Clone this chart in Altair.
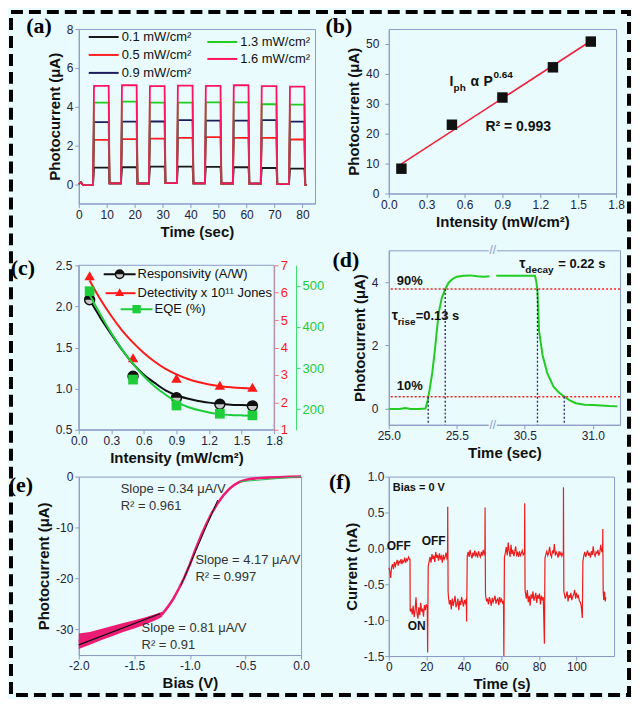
import altair as alt
import numpy as np
import pandas as pd

# ---------------- data ----------------
# (a) on/off photocurrent for five intensities
a_names = ["0.1 mW/cm²", "0.5 mW/cm²", "0.9 mW/cm²", "1.3 mW/cm²", "1.6 mW/cm²"]
a_colors = ["#1a1a1a", "#ff2020", "#1c1c5c", "#22cc22", "#ff1460"]
a_on = [5.2, 15.2, 25.2, 35.2, 45.2, 55.2, 65.2, 75.3]
a_off = [10.7, 20.7, 30.7, 40.7, 50.7, 60.7, 70.7, 80.7]
a_lvl = [
    [0.85, 0.87, 0.90, 0.90, 0.89, 0.87, 0.83, 0.80],
    [2.28, 2.32, 2.35, 2.38, 2.42, 2.38, 2.38, 2.30],
    [3.20, 3.22, 3.23, 3.30, 3.27, 3.27, 3.30, 3.22],
    [4.20, 4.25, 4.20, 4.20, 4.22, 4.22, 4.12, 4.10],
    [5.07, 5.10, 5.05, 5.08, 5.07, 5.10, 5.05, 5.03],
]
a_dark = [-0.04, 0.04, 0.03, 0.05, 0.04, 0.03, 0.02, 0.00, -0.05]
a_lead_t = [0.0, 0.8, 1.4, 2.5]
a_lead_i = [0.0, 0.09, -0.03, -0.05]

# (b)
b_int = [0.1, 0.5, 0.9, 1.3, 1.6]
b_cur = [8.3, 23.0, 32.1, 42.2, 50.8]
b_fit_int = [0.1, 1.6]
b_fit_cur = [9.9, 51.0]

# (c)
c_int = [0.1, 0.5, 0.9, 1.3, 1.6]
c_resp = [2.08, 1.15, 0.89, 0.81, 0.79]
c_det = [6.62, 3.63, 2.88, 2.62, 2.55]
c_eqe = [487, 272, 209, 189, 185]
c_fit_int = [0.1, 0.2, 0.3, 0.4, 0.5, 0.6, 0.7, 0.8, 0.9, 1.0, 1.1, 1.2, 1.3, 1.4, 1.5, 1.6]
c_resp_fit = [2.08, 1.86, 1.66, 1.47, 1.30, 1.17, 1.07, 0.98, 0.92, 0.88, 0.85, 0.83, 0.815, 0.805, 0.80, 0.795]
c_det_fit = [6.45, 5.75, 5.15, 4.62, 4.18, 3.80, 3.48, 3.22, 3.02, 2.86, 2.74, 2.65, 2.59, 2.55, 2.52, 2.50]
c_eqe_fit = [478, 430, 385, 345, 310, 280, 255, 235, 218, 206, 198, 192, 188, 186, 185, 184]

# (d) rise / decay (time axis broken between 25.76 s and 30.27 s)
d_t1 = [25.00, 25.08, 25.12, 25.16, 25.22, 25.27, 25.285, 25.30, 25.32, 25.34, 25.355, 25.37,
        25.39, 25.415, 25.44, 25.47, 25.50, 25.55, 25.60, 25.65, 25.70, 25.74]
d_i1 = [0.00, 0.00, 0.03, 0.00, 0.00, 0.01, 0.25, 0.60, 1.15, 1.90, 2.55, 3.10,
        3.50, 3.78, 3.98, 4.10, 4.17, 4.20, 4.21, 4.18, 4.17, 4.18]
d_t2 = [30.29, 30.40, 30.50, 30.575, 30.585, 30.593, 30.605, 30.63, 30.665, 30.71, 30.75, 30.79,
        30.83, 30.875, 30.94, 31.00, 31.06, 31.12, 31.18]
d_i2 = [4.20, 4.20, 4.20, 4.20, 4.00, 3.70, 2.45, 1.70, 1.13, 0.71, 0.52, 0.39,
        0.27, 0.18, 0.13, 0.12, 0.11, 0.09, 0.08]
d_break_shift = 4.5
d_break_at = 25.765
d_pct = [3.78, 0.38]
d_cross_t = [25.29, 25.415, 30.593, 30.79]
d_cross_i = [0.38, 3.78, 3.78, 0.38]

# (e) photocurrent vs bias
e_bias = [-2.0, -1.9, -1.8, -1.7, -1.6, -1.5, -1.4, -1.3, -1.25, -1.2, -1.15, -1.1, -1.05, -1.0,
          -0.95, -0.9, -0.85, -0.8, -0.75, -0.7, -0.65, -0.6, -0.55, -0.5, -0.45, -0.4, -0.3,
          -0.2, -0.1, 0.0]
e_cur = [-32.3, -31.7, -31.0, -30.3, -29.6, -29.0, -28.3, -27.5, -27.0, -25.6, -24.0, -22.0,
         -19.8, -17.2, -14.3, -11.6, -9.2, -7.0, -5.2, -3.7, -2.5, -1.6, -1.0, -0.65, -0.45,
         -0.33, -0.2, -0.12, -0.06, 0.0]
e_band_bias = [-2.0, -1.9, -1.8, -1.7, -1.6, -1.5, -1.4, -1.3, -1.25]
e_band_hi = [-30.8, -30.5, -29.9, -29.3, -28.7, -28.2, -27.6, -26.9, -26.5]
e_band_lo = [-33.8, -33.0, -32.1, -31.3, -30.5, -29.8, -29.0, -28.1, -27.5]
e_fit1_bias = [-2.0, -1.27]
e_fit1_cur = [-33.0, -26.9]
e_fit2_bias = [-1.08, -0.75]
e_fit2_cur = [-21.3, -4.6]
e_fit3_bias = [-0.55, 0.0]
e_fit3_cur = [-1.0, 0.0]

# (f) zero-bias switching, noisy trace (segments sampled every 0.5 s + switching spikes)
f_seg_start = [0.0, 11.5, 21.0, 31.8, 41.8, 51.6, 61.6, 72.8, 83.2, 93.5, 103.4]
f_seg_vals = [
    [-0.27, -0.31, -0.41, -0.26, -0.22, -0.29, -0.19, -0.25, -0.21, -0.16, -0.24, -0.18,
     -0.20, -0.15, -0.22, -0.17, -0.19, -0.13, -0.20, -0.15, -0.17, -0.12, -0.15],
    [-0.88, -0.84, -0.92, -0.80, -0.96, -0.87, -0.68, -0.90, -0.98, -0.82, -0.93, -0.76,
     -0.88, -0.84, -0.95, -0.79, -0.86, -0.78, -0.82],
    [-0.25, -0.18, -0.12, -0.20, -0.08, -0.15, -0.10, -0.19, -0.05, -0.13, -0.09, -0.17,
     -0.07, -0.14, -0.11, -0.20, -0.09, -0.15, -0.12, -0.06, -0.14],
    [-0.68, -0.78, -0.72, -0.85, -0.70, -0.80, -0.74, -0.66, -0.82, -0.77, -0.70, -0.86,
     -0.73, -0.79, -0.68, -0.75, -0.81, -0.72, -0.76, -0.70],
    [-0.10, -0.05, -0.12, -0.02, -0.09, -0.14, -0.06, -0.11, -0.03, -0.10, -0.07, -0.13,
     -0.04, -0.09, -0.12, -0.05, -0.10, -0.02, -0.08],
    [-0.66, -0.74, -0.70, -0.78, -0.68, -0.73, -0.80, -0.69, -0.75, -0.71, -0.66, -0.77,
     -0.72, -0.70, -0.79, -0.68, -0.74, -0.71, -0.76, -0.73],
    [-0.12, -0.06, 0.02, -0.10, 0.08, -0.04, -0.12, 0.05, -0.08, -0.02, -0.11, -0.05,
     0.03, -0.09, -0.06, -0.12, -0.04, -0.10, -0.07, -0.03, -0.09],
    [-0.62, -0.70, -0.58, -0.75, -0.66, -0.80, -0.64, -0.70, -0.60, -0.73, -0.68, -0.62,
     -0.76, -0.65, -0.70, -0.63, -0.78, -0.66, -0.71, -0.68],
    [-0.14, -0.08, -0.04, -0.10, -0.06, 0.02, -0.09, -0.12, -0.03, -0.07, 0.06, -0.10,
     -0.05, -0.08, -0.13, -0.04, -0.09, -0.06, -0.11],
    [-0.63, -0.70, -0.66, -0.60, -0.74, -0.65, -0.69, -0.62, -0.72, -0.67, -0.64, -0.58,
     -0.70, -0.62, -0.68, -0.66, -0.73, -0.75, -0.80],
    [-0.18, -0.10, -0.05, -0.12, -0.07, -0.03, -0.10, -0.06, -0.13, -0.04, -0.09, 0.03,
     -0.08, -0.11, -0.05, -0.07, -0.02, -0.10, -0.06, 0.05, -0.04],
]
f_spike_t = [11.3, 11.4, 20.7, 31.3, 31.4, 31.6, 41.45, 51.2, 51.3, 51.5, 61.3, 72.3, 72.4,
             72.6, 82.9, 93.0, 93.05, 93.25, 103.1, 113.9, 114.0, 114.2, 114.5, 114.9, 115.3, 115.6]
f_spike_i = [-0.15, -0.86, -1.45, -0.12, 0.58, -0.60, -1.02, -0.05, 0.57, -0.62, -1.50, -0.06,
             0.63, -0.58, -1.33, -0.05, 0.85, -0.60, -0.97, -0.05, 0.27, -0.60, -0.72, -0.60,
             -0.74, -0.68]

# ---------------- styling ----------------
FONT = "Liberation Sans"
SERIF = "Liberation Serif"
FRAME = "#8d9bc7"
BG = "#e9fbfd"
LBL = "#22223a"
TTL = "#111111"
ONE = pd.DataFrame({"k": [0]})


def ax(values, title=None, fmt=None, expr=None, **kw):
    p = dict(values=values, grid=False, domainColor=FRAME, tickColor=FRAME, tickSize=4,
             labelFont=FONT, labelFontSize=12, labelColor=LBL, labelPadding=2,
             labelFlush=False, labelOverlap=False,
             titleFont=FONT, titleFontSize=15, titleFontWeight="bold", titleColor=TTL,
             titlePadding=4, title=title)
    if fmt is not None:
        p["format"] = fmt
    if expr is not None:
        p["labelExpr"] = expr
    p.update(kw)
    return alt.Axis(**p)


def label(s, x, y, size=13, weight="bold", color=TTL, align="left", font=FONT):
    return alt.Chart(ONE).mark_text(text=s, font=font, fontSize=size, fontWeight=weight,
                                    color=color, align=align, baseline="middle").encode(
        x=alt.value(x), y=alt.value(y))


def panel_tag(s, x, y):
    return label(s, x, y, size=22, weight="bold", color="#000", align="center", font=SERIF)


def leg_line(x1, x2, y, color, w=2):
    return alt.Chart(ONE).mark_rule(color=color, strokeWidth=w).encode(
        x=alt.value(x1), x2=alt.value(x2), y=alt.value(y))


def leg_sym(x, y, **kw):
    return alt.Chart(ONE).mark_point(opacity=1, **kw).encode(x=alt.value(x), y=alt.value(y))


MINUS = "replace(format(datum.value, '.1f'), '\u2212', '-')"
MINUS0 = "replace(format(datum.value, 'd'), '\u2212', '-')"

# ---------------- panel (a) ----------------
rows = []
for name, lv in zip(a_names, a_lvl):
    for t, i in zip(a_lead_t, a_lead_i):
        rows.append((name, t, i))
    for k in range(len(a_on)):
        rows.append((name, a_on[k] - 0.1, a_dark[k]))
        rows.append((name, a_on[k] + 0.25, lv[k]))
        rows.append((name, a_off[k], lv[k]))
        rows.append((name, a_off[k] + 0.3, a_dark[k + 1]))
    rows.append((name, 81.5, a_dark[-1]))
df_a = pd.DataFrame(rows, columns=["s", "t", "i"])

a_scale = alt.Scale(domain=a_names, range=a_colors)
a_x = alt.X("t:Q", scale=alt.Scale(domain=[0, 84.5], nice=False),
            axis=ax(list(range(0, 81, 10)), "Time (sec)", "d"))
a_y = alt.Y("i:Q", scale=alt.Scale(domain=[-1, 8], nice=False),
            axis=ax([0, 2, 4, 6, 8], "Photocurrent (\u03bcA)", "d"))
a_layers = []
for name in a_names:
    a_layers.append(alt.Chart(df_a[df_a.s == name]).mark_line(strokeWidth=1.8).encode(
        x=a_x, y=a_y, color=alt.Color("s:N", scale=a_scale, legend=None)))
# legend entries: two columns (0.1/0.5/0.9 | 1.3/1.6)
a_leg_pos = [(10, 8), (10, 26), (10, 44), (129, 13), (129, 30)]
a_leg = []
for (lx, ly), name, col in zip(a_leg_pos, a_names, a_colors):
    a_leg.append(leg_line(lx, lx + 30, ly, col))
    a_leg.append(label(name, lx + 33, ly, size=13, weight="normal"))
border = alt.Chart(ONE).mark_rect(fillOpacity=0, stroke="#000000", strokeWidth=4,
                                  strokeDash=[12, 6]).encode(
    x=alt.value(-68), x2=alt.value(552), y=alt.value(-17), y2=alt.value(668))
pa = alt.layer(*a_layers, *a_leg, border, panel_tag("(a)", -40, -3)).properties(width=237, height=175)

# ---------------- panel (b) ----------------
df_b = pd.DataFrame({"x": b_int, "y": b_cur})
df_bf = pd.DataFrame({"x": b_fit_int, "y": b_fit_cur})
b_x = alt.X("x:Q", scale=alt.Scale(domain=[0, 1.8], nice=False),
            axis=ax([0, 0.3, 0.6, 0.9, 1.2, 1.5, 1.8], "Intensity (mW/cm²)", ".1f"))
b_y = alt.Y("y:Q", scale=alt.Scale(domain=[0, 55], nice=False),
            axis=ax([0, 10, 20, 30, 40, 50], "Photocurrent (\u03bcA)", "d", labelPadding=6))
pb = alt.layer(
    alt.Chart(df_bf).mark_line(color="#f0203c", strokeWidth=1.5).encode(x=b_x, y=b_y),
    alt.Chart(df_b).mark_square(size=110, color="#111111", opacity=1).encode(x=b_x, y=b_y),
    label("I", 61, 53, size=14),
    label("ph", 65, 59, size=10),
    label("\u03b1", 82, 53, size=14),
    label("P", 95, 53, size=14),
    label("0.64", 105, 46, size=10),
    label("R² = 0.993", 97, 98, size=14),
    panel_tag("(b)", -50, -3),
).properties(width=228, height=165)

# ---------------- panel (c) ----------------
df_c = pd.DataFrame({"x": c_int, "r": c_resp, "d": c_det, "e": c_eqe})
df_cf = pd.DataFrame({"x": c_fit_int, "r": c_resp_fit, "d": c_det_fit, "e": c_eqe_fit})
c_rng = [180, 15]
c_x = alt.X("x:Q", scale=alt.Scale(domain=[0, 1.8], nice=False),
            axis=ax([0, 0.3, 0.6, 0.9, 1.2, 1.5, 1.8], "Intensity (mW/cm²)", ".1f"))
c_yr = alt.Y("r:Q", scale=alt.Scale(domain=[0.5, 2.5], nice=False, range=c_rng),
             axis=ax([0.5, 1.0, 1.5, 2.0, 2.5], None, ".1f", labelPadding=3))
RED = "#ff1a1a"
GRN = "#1fcc3a"
c_yd = alt.Y("d:Q", scale=alt.Scale(domain=[1, 7], nice=False, range=c_rng),
             axis=ax([1, 2, 3, 4, 5, 6, 7], None, "d", orient="right", domainColor="#ff6b7a",
                     tickColor="#ff6b7a", labelColor=RED, labelFontSize=13))
c_ye = alt.Y("e:Q", scale=alt.Scale(domain=[150, 550], nice=False, range=c_rng),
             axis=ax([200, 300, 400, 500], None, "d", orient="right", offset=22,
                     domainColor="#33dd66", tickColor="#33dd66", labelColor=GRN, labelFontSize=13))
half_top = "M-1,0A1,1,0,0,1,1,0Z"
c_black = alt.layer(
    alt.Chart(df_cf).mark_line(color="#111111", strokeWidth=2, interpolate="monotone").encode(x=c_x, y=c_yr),
    alt.Chart(df_c).mark_point(shape="circle", size=100, filled=True, fill="#c8c8c8", stroke="#111111",
                               strokeWidth=1.5, opacity=1).encode(x=c_x, y=c_yr),
    alt.Chart(df_c).mark_point(shape=half_top, size=100, filled=True, color="#111111",
                               opacity=1).encode(x=c_x, y=c_yr),
)
c_red = alt.layer(
    alt.Chart(df_cf).mark_line(color=RED, strokeWidth=2, interpolate="monotone").encode(x=c_x, y=c_yd),
    alt.Chart(df_c).mark_point(shape="triangle-up", size=110, filled=True, color=RED,
                               opacity=1).encode(x=c_x, y=c_yd),
)
c_green = alt.layer(
    alt.Chart(df_cf).mark_line(color=GRN, strokeWidth=2, interpolate="monotone").encode(x=c_x, y=c_ye),
    alt.Chart(df_c).mark_point(shape="square", size=95, filled=True, color=GRN,
                               opacity=1).encode(x=c_x, y=c_ye),
)
c_frame = alt.Chart(ONE).mark_rect(fillOpacity=0, stroke=FRAME, strokeWidth=1).encode(
    x=alt.value(0), x2=alt.value(196), y=alt.value(15), y2=alt.value(180))

pc = alt.layer(
    c_black, c_red, c_green, c_frame,
    leg_line(25, 57, 24, "#111111"),
    leg_sym(41, 24, shape="circle", size=70, filled=True, fill="#c8c8c8", stroke="#111111", strokeWidth=1.5),
    leg_sym(41, 24, shape=half_top, size=70, filled=True, color="#111111"),
    label("Responsivity (A/W)", 59, 24, size=13, weight="normal"),
    leg_line(27, 57, 43, RED),
    leg_sym(41, 42, shape="triangle-up", size=80, filled=True, color=RED),
    label("Detectivity x 10\u00b9\u00b9 Jones", 59, 43, size=13, weight="normal"),
    leg_line(42, 74, 59, GRN),
    leg_sym(58, 59, shape="square", size=70, filled=True, color=GRN),
    label("EQE (%)", 76, 59, size=13, weight="normal"),
    panel_tag("(c)", -56, 18),
).resolve_scale(y="independent").properties(width=196, height=180,
                                             view=alt.ViewBackground(strokeOpacity=0))

# ---------------- panel (d) ----------------
df_d = pd.DataFrame({
    "u": d_t1 + [t - d_break_shift for t in d_t2],
    "i": d_i1 + d_i2,
    "seg": [1] * len(d_t1) + [2] * len(d_t2),
})
df_dc = pd.DataFrame({
    "u": [t if t < d_break_at else t - d_break_shift for t in d_cross_t],
    "i": d_cross_i,
})
d_expr = ("datum.value < %s ? format(datum.value, '.1f') : format(datum.value + %s, '.1f')"
          % (d_break_at, d_break_shift))
d_x = alt.X("u:Q", scale=alt.Scale(domain=[25.0, 26.7], nice=False, zero=False),
            axis=ax([25.0, 25.5, 26.0, 26.5], "Time (sec)", expr=d_expr))
d_y = alt.Y("i:Q", scale=alt.Scale(domain=[-0.5, 5], nice=False),
            axis=ax([0, 2, 4], "Photocurrent (\u03bcA)", "d", labelPadding=7))
pd_ = alt.layer(
    alt.Chart(df_d).mark_line(color="#22cc22", strokeWidth=2).encode(x=d_x, y=d_y, detail="seg:N"),
    alt.Chart(pd.DataFrame({"p": d_pct})).mark_rule(color="#ff2020", strokeDash=[2, 2],
                                                    strokeWidth=1.5).encode(
        y=alt.Y("p:Q", scale=alt.Scale(domain=[-0.5, 5], nice=False))),
    alt.Chart(df_dc).mark_rule(color="#22226e", strokeDash=[2, 2], strokeWidth=1.3).encode(
        x=d_x, y=d_y, y2=alt.datum(-0.5)),
    alt.Chart(ONE).mark_rect(color=BG).encode(
        x=alt.datum(d_break_at - 0.03), x2=alt.datum(d_break_at + 0.03),
        y=alt.value(-2), y2=alt.value(2)),
    alt.Chart(ONE).mark_rect(color=BG).encode(
        x=alt.datum(d_break_at - 0.03), x2=alt.datum(d_break_at + 0.03),
        y=alt.value(173), y2=alt.value(177)),
    alt.Chart(ONE).mark_text(text="//", font=FONT, fontSize=12, color=FRAME).encode(
        x=alt.datum(d_break_at), y=alt.value(0)),
    alt.Chart(ONE).mark_text(text="//", font=FONT, fontSize=12, color=FRAME).encode(
        x=alt.datum(d_break_at), y=alt.value(175)),
    label("90%", 8, 31),
    label("10%", 8, 136),
    label("\u03c4", 3, 66, size=14),
    label("rise", 9, 72, size=10),
    label("=0.13 s", 27, 66),
    label("\u03c4", 131, 14, size=14),
    label("decay", 137, 20, size=10),
    label("= 0.22 s", 170, 14),
    panel_tag("(d)", -43, 10),
).properties(width=232, height=175)

# ---------------- panel (e) ----------------
df_e = pd.DataFrame({"x": e_bias, "y": e_cur})
df_eb = pd.DataFrame({"x": e_band_bias, "lo": e_band_lo, "hi": e_band_hi})
e_x = alt.X("x:Q", scale=alt.Scale(domain=[-2, 0], nice=False),
            axis=ax([-2.0, -1.5, -1.0, -0.5, 0.0], "Bias (V)", expr=MINUS))
e_y = alt.Y("y:Q", scale=alt.Scale(domain=[-35, 0], nice=False),
            axis=ax([-30, -20, -10, 0], "Photocurrent (\u03bcA)", expr=MINUS0))
PINK = "#ec1c74"


def fitline(xs, ys, color, w):
    return alt.Chart(pd.DataFrame({"x": xs, "y": ys})).mark_line(color=color, strokeWidth=w).encode(
        x=e_x, y=e_y)


pe = alt.layer(
    alt.Chart(df_eb).mark_area(color=PINK, opacity=1).encode(
        x=e_x, y=alt.Y("lo:Q", scale=alt.Scale(domain=[-35, 0], nice=False)), y2="hi:Q"),
    alt.Chart(df_e).mark_line(color=PINK, strokeWidth=2.6).encode(x=e_x, y=e_y),
    fitline(e_fit1_bias, e_fit1_cur, "#111111", 1.2),
    fitline(e_fit2_bias, e_fit2_cur, "#111111", 1.0),
    fitline(e_fit3_bias, e_fit3_cur, "#33bb55", 1.0),
    label("Slope = 0.34 \u03bcA/V", 42, 12, weight="normal", color="#333333"),
    label("R² = 0.961", 42, 29, weight="normal", color="#333333"),
    label("Slope = 4.17 \u03bcA/V", 117, 84, weight="normal", color="#333333"),
    label("R² = 0.997", 117, 101, weight="normal", color="#333333"),
    label("Slope = 0.81 \u03bcA/V", 63, 152, weight="normal", color="#333333"),
    label("R² = 0.91", 63, 169, weight="normal", color="#333333"),
    panel_tag("(e)", -58, 8),
).properties(width=223, height=179)

# ---------------- panel (f) ----------------
f_t, f_i = [], []
for st, vals in zip(f_seg_start, f_seg_vals):
    for k, v in enumerate(vals):
        f_t.append(round(st + 0.5 * k, 2))
        f_i.append(v)
f_t += f_spike_t
f_i += f_spike_i
df_f = pd.DataFrame({"t": f_t, "i": f_i}).sort_values("t")
f_x = alt.X("t:Q", scale=alt.Scale(domain=[0, 120], nice=False),
            axis=ax([0, 20, 40, 60, 80, 100], "Time (s)", "d"))
f_y = alt.Y("i:Q", scale=alt.Scale(domain=[-1.5, 1.0], nice=False),
            axis=ax([-1.5, -1.0, -0.5, 0.0, 0.5, 1.0], "Current (nA)", expr=MINUS, labelPadding=1))
pf = alt.layer(
    alt.Chart(df_f).mark_line(color="#ee1c1c", strokeWidth=1.2).encode(x=f_x, y=f_y),
    label("Bias = 0 V", 4, 11, size=11),
    label("OFF", 10, 70, size=12, align="center"),
    label("OFF", 45, 65, size=12, align="center"),
    label("ON", 28, 150, size=12, align="center"),
    panel_tag("(f)", -49, 5),
).properties(width=226, height=180)

chart = alt.concat(
    pa, pb, pc, pd_, pe, pf, columns=2,
    spacing=alt.RowColnumber(row=47, column=74), bounds="flush", align="each",
).properties(background=BG, padding=0).configure_view(stroke=FRAME, strokeWidth=1)

chart.save("out.html", embed_options={"renderer": "svg", "actions": False})
